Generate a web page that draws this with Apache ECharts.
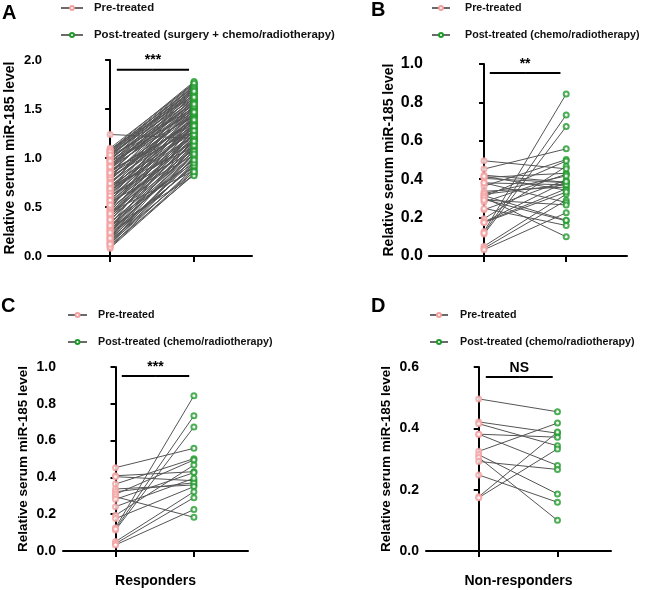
<!DOCTYPE html>
<html><head><meta charset="utf-8">
<script src="https://cdn.jsdelivr.net/npm/echarts@6/dist/echarts.min.js"></script>
<style>html,body{margin:0;padding:0;background:#fff}#c{width:648px;height:590px}</style>
</head><body><div id="c"></div>
<script>
// ---------------- DATA ----------------
const panelLetters = ['A', 'B', 'C', 'D'];
const preName = 'Pre-treated';
const postNameA = 'Post-treated (surgery + chemo/radiotherapy)';
const postNameB = 'Post-treated (chemo/radiotherapy)';
const yAxisTitle = 'Relative serum miR-185 level';
const xNames = ['', '', 'Responders', 'Non-responders'];
const sigLabels = ['***', '**', '***', 'NS'];

// Panel A: all patients (pre vs post surgery + chemo/radiotherapy)
const preA = [0.08,0.10,0.11,0.12,0.13,0.14,0.15,0.16,0.17,0.18,
  0.19,0.20,0.22,0.23,0.24,0.25,0.26,0.27,0.29,0.30,
  0.31,0.32,0.33,0.35,0.36,0.37,0.38,0.40,0.41,0.42,
  0.43,0.44,0.46,0.47,0.48,0.49,0.51,0.52,0.53,0.54,
  0.55,0.57,0.58,0.59,0.60,0.61,0.63,0.64,0.65,0.66,
  0.67,0.69,0.70,0.71,0.72,0.73,0.74,0.76,0.77,0.78,
  0.79,0.80,0.81,0.82,0.83,0.84,0.85,0.86,0.87,0.88,
  0.89,0.90,0.91,0.92,0.93,0.94,0.95,0.96,0.97,0.98,
  0.99,1.00,1.01,1.02,1.03,1.04,1.05,1.06,1.07,1.08,
  1.09,1.10,1.02,0.96,0.88,0.71,0.45,0.28,1.24,0.62,
  0.09,0.14,0.21,0.26,0.34,0.39,0.45,0.50,0.56,0.62,
  0.68,0.75,0.80,0.86,0.92,0.98,1.04,1.08,0.12,0.18,
  0.31,0.43,0.57,0.66,0.74,0.83,0.91,1.00,1.06,0.24,
  0.37,0.52,0.69,0.85,0.97,1.03];
const postA = [0.84,0.90,0.83,1.05,0.88,0.95,1.12,0.86,1.00,0.93,
  1.20,0.97,1.08,0.91,1.15,1.02,1.30,0.99,1.10,1.22,
  1.04,1.35,1.13,0.95,1.25,1.18,1.42,1.06,1.28,1.16,
  1.38,1.09,1.32,1.21,1.50,1.14,1.27,1.44,1.19,1.36,
  1.03,1.40,1.24,1.55,1.31,1.17,1.47,1.29,1.58,1.37,
  1.23,1.52,1.34,1.45,1.26,1.60,1.41,1.33,1.56,1.48,
  1.39,1.62,1.30,1.53,1.46,1.66,1.43,1.58,1.35,1.68,
  1.50,1.61,1.44,1.70,1.57,1.49,1.72,1.63,1.54,1.74,
  1.65,1.59,1.75,1.67,1.71,1.76,1.69,1.77,1.73,1.78,
  1.64,1.76,1.51,1.42,1.27,1.11,0.87,0.82,1.20,1.07,
  0.86,1.01,0.92,1.18,1.07,1.26,1.19,1.35,1.22,1.43,
  1.31,1.49,1.40,1.59,1.52,1.67,1.61,1.72,0.95,1.13,
  0.98,1.24,1.46,1.28,1.53,1.37,1.64,1.55,1.70,1.04,
  1.17,1.33,1.39,1.62,1.47,1.68];

// Panel C: responders
const preResp  = [0.453,0.409,0.404,0.364,0.337,0.322,0.308,0.295,0.281,0.241,0.194,0.176,0.127,0.114,0.120,0.051,0.040,0.033];
const postResp = [0.558,0.431,0.382,0.502,0.359,0.371,0.495,0.183,0.426,0.395,0.467,0.350,0.844,0.674,0.735,0.322,0.290,0.225];

// Panel D: non-responders
const preNonResp  = [0.496,0.421,0.415,0.381,0.381,0.325,0.314,0.305,0.292,0.248,0.177,0.174];
const postNonResp = [0.454,0.384,0.343,0.371,0.279,0.417,0.186,0.100,0.266,0.159,0.388,0.333];

// Panel B: all chemo/radiotherapy patients = responders + non-responders
const preB = preResp.concat(preNonResp);
const postB = postResp.concat(postNonResp);

// Y axis ticks per panel
const yTicksA = [0, 0.5, 1.0, 1.5, 2.0];
const yTicksB = [0, 0.2, 0.4, 0.6, 0.8, 1.0];
const yTicksC = [0, 0.2, 0.4, 0.6, 0.8, 1.0];
const yTicksD = [0, 0.2, 0.4, 0.6];

// ---------------- LAYOUT ----------------
const FONT = 'Arial, "Liberation Sans", Helvetica, sans-serif';
const PINK = '#f4a0a0';
const GREEN = '#1f9a2a';
const LINE = '#555555';

const panels = [
  {pre: preA, post: postA, postName: postNameA, ticks: yTicksA,
   grid: {left: 48, top: 60, width: 204, height: 196}, xMin: -0.74, xMax: 1.69,
   nameGap: 31, sig: [0.08, 0.94, 1.9], lab: {fs: 13, m: 6}, nameFs: 14,
   legend: {left: 60, top: 1, w: 22, pad: 6, fs: 11.4}, letter: {left: 2, top: 3}},
  {pre: preB, post: postB, postName: postNameB, ticks: yTicksB,
   grid: {left: 429, top: 64, width: 198, height: 192}, xMin: -0.67, xMax: 1.74,
   nameGap: 33, sig: [0.07, 0.93, 0.953], lab: {fs: 16, m: 6}, nameFs: 14,
   legend: {left: 431, top: 1, w: 18, pad: 10, fs: 10.7}, letter: {left: 371, top: 0}},
  {pre: preResp, post: postResp, postName: postNameB, ticks: yTicksC,
   grid: {left: 63, top: 367, width: 185, height: 184}, xMin: -0.67, xMax: 1.69,
   nameGap: 33, sig: [0.08, 0.94, 0.951], lab: {fs: 14, m: 7}, nameFs: 13.5,
   legend: {left: 67, top: 308, w: 19, pad: 6, fs: 10.7}, letter: {left: 1, top: 296}},
  {pre: preNonResp, post: postNonResp, postName: postNameB, ticks: yTicksD,
   grid: {left: 426, top: 367, width: 185, height: 184}, xMin: -0.67, xMax: 1.68,
   nameGap: 33, sig: [0.09, 0.94, 0.567], lab: {fs: 14, m: 7}, nameFs: 13.5,
   legend: {left: 429, top: 308, w: 18, pad: 7, fs: 10.7}, letter: {left: 371, top: 296}}
];

const grids = [], xAxes = [], yAxes = [], series = [], legends = [], titles = [];

panels.forEach((p, i) => {
  grids.push(Object.assign({containLabel: false}, p.grid));
  xAxes.push({
    type: 'value', gridIndex: i, min: p.xMin, max: p.xMax,
    axisLine: {show: true, onZero: false, lineStyle: {color: '#000', width: 2}},
    axisTick: {show: true, customValues: [0, 1], length: 6, inside: false, lineStyle: {color: '#000', width: 2}},
    axisLabel: {show: false},
    splitLine: {show: false},
    name: xNames[i], nameLocation: 'middle', nameGap: 23,
    nameTextStyle: {fontFamily: FONT, fontWeight: 'bold', fontSize: 14, color: '#000'}
  });
  const t = p.ticks;
  yAxes.push({
    type: 'value', gridIndex: i, min: t[0], max: t[t.length - 1], interval: t[1] - t[0],
    axisLine: {show: true, lineStyle: {color: '#000', width: 2}},
    axisTick: {show: true, length: 5, lineStyle: {color: '#000', width: 2}},
    axisLabel: {fontFamily: FONT, fontWeight: 'bold', fontSize: p.lab.fs, color: '#000', margin: p.lab.m,
                formatter: v => v.toFixed(1)},
    splitLine: {show: false},
    name: yAxisTitle, nameLocation: 'middle', nameRotate: 90, nameGap: p.nameGap,
    nameTextStyle: {fontFamily: FONT, fontWeight: 'bold', fontSize: p.nameFs, color: '#000'}
  });

  // paired lines
  p.pre.forEach((v, j) => {
    series.push({
      type: 'line', xAxisIndex: i, yAxisIndex: i, silent: true,
      data: [[0, v], [1, p.post[j]]], symbol: 'none',
      lineStyle: {color: LINE, width: 1}, z: 2
    });
  });
  // points
  series.push({
    type: 'scatter', xAxisIndex: i, yAxisIndex: i, silent: true,
    data: p.pre.map(v => [0, v]), symbol: 'emptyCircle', symbolSize: 5,
    itemStyle: {color: PINK, borderColor: PINK, borderWidth: 1}, z: 3
  });
  series.push({
    type: 'scatter', xAxisIndex: i, yAxisIndex: i, silent: true,
    data: p.post.map(v => [1, v]), symbol: 'emptyCircle', symbolSize: 5,
    itemStyle: {color: GREEN, borderColor: GREEN, borderWidth: 1}, z: 3
  });
  // significance bar
  series.push({
    type: 'line', xAxisIndex: i, yAxisIndex: i, silent: true, symbol: 'none',
    data: [[p.sig[0], p.sig[2]], [p.sig[1], p.sig[2]]],
    lineStyle: {color: '#000', width: 2}, z: 4
  });
  series.push({
    type: 'scatter', xAxisIndex: i, yAxisIndex: i, silent: true,
    data: [[(p.sig[0] + p.sig[1]) / 2, p.sig[2]]], symbol: 'circle', symbolSize: 0.5,
    itemStyle: {color: '#fff', opacity: 1}, z: 5,
    label: {show: true, position: 'top', distance: 2, formatter: sigLabels[i],
            fontFamily: FONT, fontWeight: 'bold', fontSize: 14, color: '#000', opacity: 1}
  });

  legends.push({
    orient: 'vertical', left: p.legend.left, top: p.legend.top, padding: 0,
    itemGap: 13, itemWidth: p.legend.w, itemHeight: 5,
    data: [preName, p.postName], selectedMode: false,
    textStyle: {fontFamily: FONT, fontWeight: 'bold', fontSize: p.legend.fs, color: '#111', lineHeight: 14,
                padding: [0, 0, 0, p.legend.pad]}
  });
  titles.push({
    text: panelLetters[i], left: p.letter.left, top: p.letter.top, padding: 0,
    textStyle: {fontFamily: FONT, fontWeight: 'bold', fontSize: 20, color: '#000'}
  });
});

// legend-only series
[[preName, PINK], [postNameA, GREEN], [postNameB, GREEN]].forEach(([n, c]) => {
  series.push({
    type: 'line', name: n, xAxisIndex: 0, yAxisIndex: 0, data: [],
    symbol: 'emptyCircle', symbolSize: 5,
    itemStyle: {color: c, borderColor: c, borderWidth: 1},
    lineStyle: {color: '#6a6a6a', width: 1.2}
  });
});

const chart = echarts.init(document.getElementById('c'), null, {renderer: 'canvas'});
chart.setOption({
  animation: false,
  backgroundColor: '#fff',
  title: titles,
  legend: legends,
  grid: grids,
  xAxis: xAxes,
  yAxis: yAxes,
  series: series
});
</script>
</body></html>
